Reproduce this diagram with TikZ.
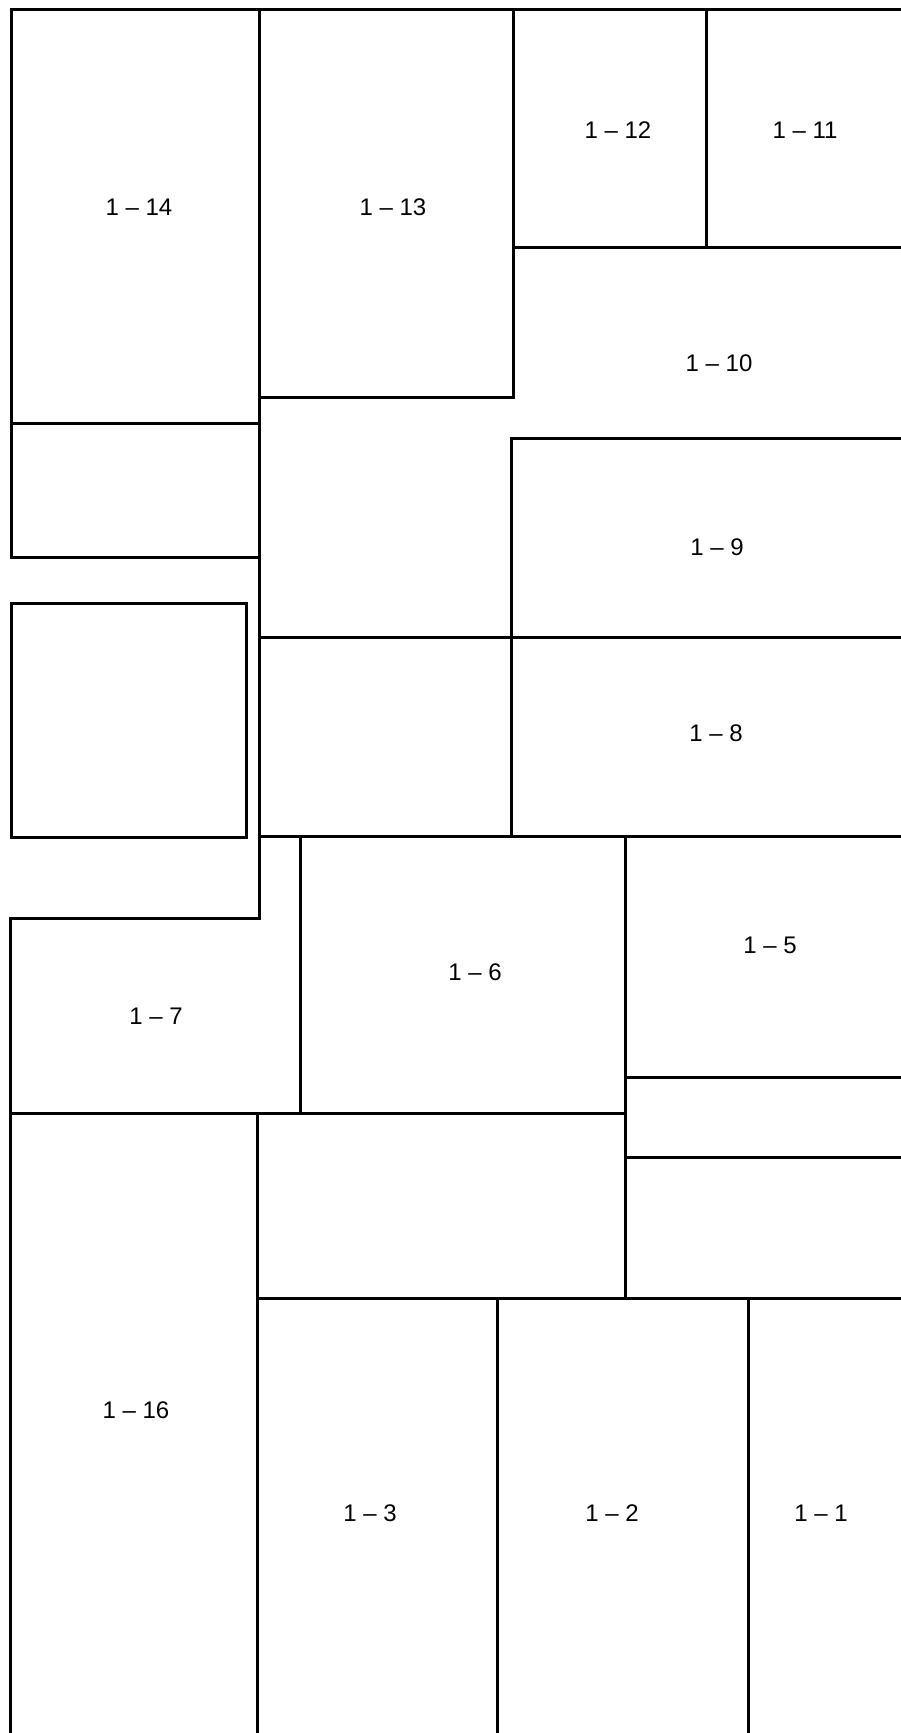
\documentclass[tikz,border=0pt]{standalone}
\usepackage{fontspec}
\setmainfont{Liberation Sans}
\begin{document}
\begin{tikzpicture}[x=0.5pt, y=-0.5pt,
        wall/.style={line width=1.5pt, line cap=rect},
        room/.style={font=\fontsize{12}{14}\selectfont, inner sep=0pt}]
            \useasboundingbox (0,0) rectangle (900,1733);

            % outer edges
            \draw[wall] (900,10) -- (11,10) -- (11,557);
            \draw[wall] (259,10) -- (259,918) -- (10,918) -- (10,1733);

            % left column
            \draw[wall] (11,423) -- (259,423);
            \draw[wall] (11,557) -- (259,557);
            \draw[wall] (11,603) rectangle (246,837);

            % upper blocks
            \draw[wall] (513,10) -- (513,397) -- (259,397);
            \draw[wall] (706,10) -- (706,248);
            \draw[wall] (513,248) -- (900,248);
            \draw[wall] (900,438) -- (511,438) -- (511,836);
            \draw[wall] (259,637) -- (900,637);
            \draw[wall] (259,836) -- (900,836);

            % middle blocks
            \draw[wall] (300,836) -- (300,1113);
            \draw[wall] (625,836) -- (625,1298);
            \draw[wall] (625,1077) -- (900,1077);
            \draw[wall] (625,1157) -- (900,1157);
            \draw[wall] (10,1113) -- (625,1113);

            % lower blocks
            \draw[wall] (257,1113) -- (257,1733);
            \draw[wall] (257,1298) -- (900,1298);
            \draw[wall] (497,1298) -- (497,1733);
            \draw[wall] (748,1298) -- (748,1733);

            % labels
            \node[room] (r14) at (139,207) {1 -- 14};
            \node[room] (r13) at (393,207) {1 -- 13};
            \node[room] (r12) at (618,130) {1 -- 12};
            \node[room] (r11) at (805,130) {1 -- 11};
            \node[room] (r10) at (719,363) {1 -- 10};
            \node[room] (r9) at (717,547) {1 -- 9};
            \node[room] (r8) at (716,733) {1 -- 8};
            \node[room] (r5) at (770,945) {1 -- 5};
            \node[room] (r6) at (475,972) {1 -- 6};
            \node[room] (r7) at (156,1016) {1 -- 7};
            \node[room] (r16) at (136,1410) {1 -- 16};
            \node[room] (r3) at (370,1513) {1 -- 3};
            \node[room] (r2) at (612,1513) {1 -- 2};
            \node[room] (r1) at (821,1513) {1 -- 1};
        \end{tikzpicture}
\end{document}
